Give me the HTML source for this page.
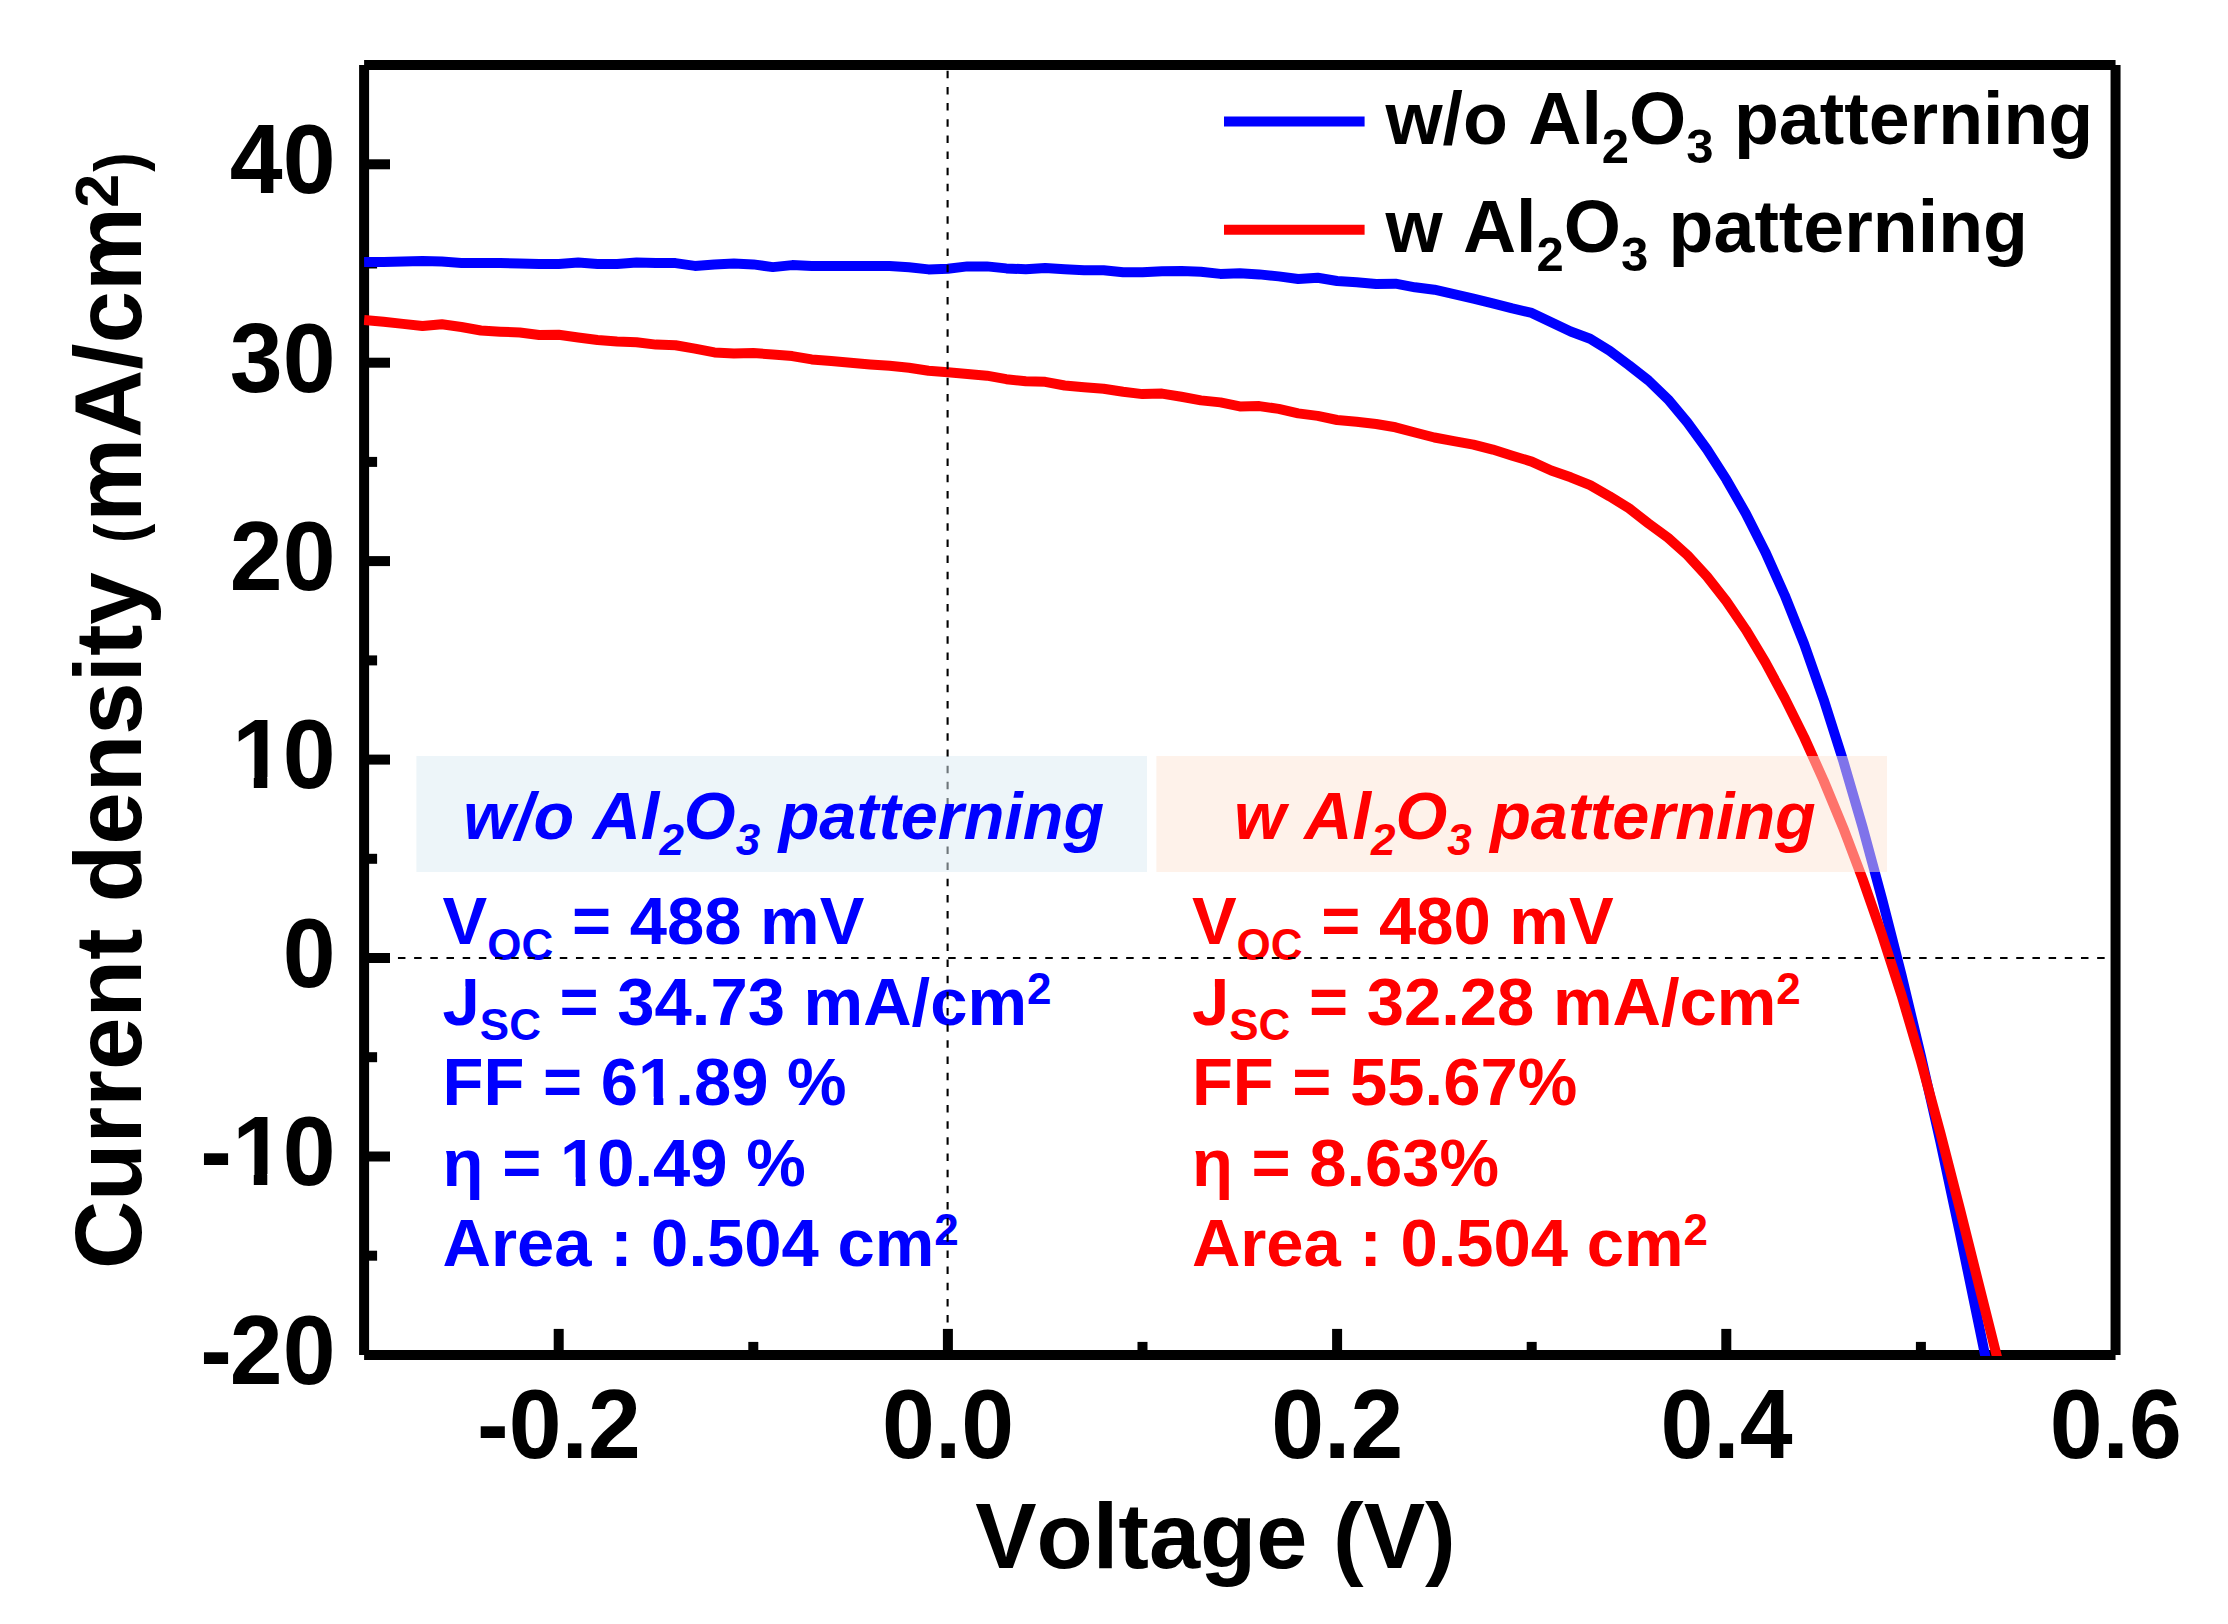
<!DOCTYPE html>
<html lang="en">
<head>
<meta charset="utf-8">
<title>J-V curves: w/o vs w Al2O3 patterning</title>
<style>
html,body{margin:0;padding:0;background:#fff;}
body{width:2228px;height:1624px;overflow:hidden;}
svg{display:block;}
text{font-family:"Liberation Sans", Arial, Helvetica, sans-serif;font-weight:bold;font-kerning:none;}
.tick{font-size:95px;fill:#000;}
.ttl{fill:#000;}
.b{fill:#0000ff;}
.r{fill:#ff0000;}
.ann{font-size:67px;}
.it{font-style:italic;}
</style>
</head>
<body>
<svg width="2228" height="1624" viewBox="0 0 2228 1624">
<defs><clipPath id="plotclip"><rect x="363.7" y="65.0" width="1751.9" height="1290.9"/></clipPath></defs>
<rect x="0" y="0" width="2228" height="1624" fill="#ffffff"/>
<g id="axes" stroke="#000" stroke-width="10" fill="none" stroke-linecap="butt">
<line x1="364.10" y1="65.05" x2="364.10" y2="1354.90"/>
<line x1="364.10" y1="1354.90" x2="2115.55" y2="1354.90"/>
<line x1="364.10" y1="65.05" x2="2115.55" y2="65.05"/>
<line x1="2115.55" y1="65.05" x2="2115.55" y2="1354.90"/>
<line x1="364.1" y1="164.3" x2="390.0" y2="164.3"/>
<line x1="364.1" y1="362.7" x2="390.0" y2="362.7"/>
<line x1="364.1" y1="561.1" x2="390.0" y2="561.1"/>
<line x1="364.1" y1="759.6" x2="390.0" y2="759.6"/>
<line x1="364.1" y1="958.0" x2="390.0" y2="958.0"/>
<line x1="364.1" y1="1156.5" x2="390.0" y2="1156.5"/>
<line x1="364.1" y1="263.5" x2="377.1" y2="263.5"/>
<line x1="364.1" y1="461.9" x2="377.1" y2="461.9"/>
<line x1="364.1" y1="660.4" x2="377.1" y2="660.4"/>
<line x1="364.1" y1="858.8" x2="377.1" y2="858.8"/>
<line x1="364.1" y1="1057.2" x2="377.1" y2="1057.2"/>
<line x1="364.1" y1="1255.7" x2="377.1" y2="1255.7"/>
<line x1="558.7" y1="1354.9" x2="558.7" y2="1328.9"/>
<line x1="947.9" y1="1354.9" x2="947.9" y2="1328.9"/>
<line x1="1337.1" y1="1354.9" x2="1337.1" y2="1328.9"/>
<line x1="1726.3" y1="1354.9" x2="1726.3" y2="1328.9"/>
<line x1="753.3" y1="1354.9" x2="753.3" y2="1341.9"/>
<line x1="1142.5" y1="1354.9" x2="1142.5" y2="1341.9"/>
<line x1="1531.7" y1="1354.9" x2="1531.7" y2="1341.9"/>
<line x1="1920.9" y1="1354.9" x2="1920.9" y2="1341.9"/>
</g>
<g id="ylabels" class="tick" text-anchor="end">
<text transform="translate(0,193.1) scale(1,1.040)" x="335.50">40</text>
<text transform="translate(0,391.5) scale(1,1.040)" x="335.50">30</text>
<text transform="translate(0,589.9) scale(1,1.040)" x="335.50">20</text>
<text transform="translate(0,986.8) scale(1,1.040)" x="335.50">0</text>
<text transform="translate(0,788.4) scale(1,1.040)" x="285.07 335.50">10</text>
<text transform="translate(0,1185.3) scale(1,1.040)" x="231.83 285.07 335.50">-10</text>
<text transform="translate(0,1383.7) scale(1,1.040)" x="231.83 335.50">-20</text>
<rect x="235" y="777.1" width="18.8" height="13" fill="#fff"/>
<rect x="267.3" y="777.1" width="16.5" height="13" fill="#fff"/>
<rect x="235" y="1174.0" width="18.8" height="13" fill="#fff"/>
<rect x="267.3" y="1174.0" width="16.5" height="13" fill="#fff"/>
</g>
<g id="xlabels" class="tick" text-anchor="middle">
<text transform="translate(558.9,1457.9) scale(1,1.040)">-0.2</text>
<text transform="translate(948.1,1457.9) scale(1,1.040)">0.0</text>
<text transform="translate(1337.3,1457.9) scale(1,1.040)">0.2</text>
<text transform="translate(1726.5,1457.9) scale(1,1.040)">0.4</text>
<text transform="translate(2115.8,1457.9) scale(1,1.040)">0.6</text>
</g>
<text class="ttl" x="975.2" y="1568" font-size="92">Voltage (V)</text>
<text class="ttl" transform="rotate(-90)" font-size="94.3" y="141.1"><tspan x="-1269.1">Current density </tspan><tspan x="-543.1" font-size="67" textLength="19.41" lengthAdjust="spacingAndGlyphs">(</tspan><tspan x="-521.7">mA/cm</tspan><tspan font-size="61" x="-207.7" dy="-23.2">2</tspan><tspan x="-171.8" dy="23.2" font-size="67" textLength="19.41" lengthAdjust="spacingAndGlyphs">)</tspan></text>
<g class="ann b">
<text x="442.6" y="944.3">V<tspan font-size="44" dy="15.2">OC</tspan><tspan dy="-15.2"> = 488 mV</tspan></text>
<text x="442.6" y="1024.8">J<tspan font-size="44" dy="15.2">SC</tspan><tspan dy="-15.2"> = 34.73 mA/cm</tspan><tspan font-size="44" dy="-20.7">2</tspan></text>
<text x="442.6" y="1105.2">FF = 61.89 %</text>
<text x="442.6" y="1185.7">η = 10.49 %</text>
<text x="442.6" y="1266.1">Area : 0.504 cm<tspan font-size="44" dy="-20.7">2</tspan></text>
</g>
<g class="ann r">
<text x="1191.9" y="944.3">V<tspan font-size="44" dy="15.2">OC</tspan><tspan dy="-15.2"> = 480 mV</tspan></text>
<text x="1191.9" y="1024.8">J<tspan font-size="44" dy="15.2">SC</tspan><tspan dy="-15.2"> = 32.28 mA/cm</tspan><tspan font-size="44" dy="-20.7">2</tspan></text>
<text x="1191.9" y="1105.2">FF = 55.67%</text>
<text x="1191.9" y="1185.7">η = 8.63%</text>
<text x="1191.9" y="1266.1">Area : 0.504 cm<tspan font-size="44" dy="-20.7">2</tspan></text>
</g>
<rect x="453.5" y="977.3" width="11.9" height="10.4" fill="#fff"/>
<rect x="1203.5" y="977.3" width="11.4" height="10.9" fill="#fff"/>
<rect x="640.0" y="1096.8" width="13.7" height="9.8" fill="#fff"/>
<rect x="663.3" y="1096.8" width="11.2" height="9.8" fill="#fff"/>
<rect x="562.0" y="1177.3" width="13.7" height="9.8" fill="#fff"/>
<rect x="585.3" y="1177.3" width="11.2" height="9.8" fill="#fff"/>
<g id="curves" clip-path="url(#plotclip)" fill="none" stroke-width="10" stroke-linejoin="round" stroke-linecap="butt">
<path stroke="#0000ff" d="M364.1,262.1 L383.6,261.9 L403.0,261.4 L422.5,261.0 L441.9,261.6 L461.4,262.9 L480.9,262.9 L500.3,262.9 L519.8,263.6 L539.2,264.1 L558.7,263.9 L578.2,262.6 L597.6,263.9 L617.1,263.9 L636.5,262.6 L656.0,263.1 L675.5,263.1 L694.9,265.9 L714.4,264.4 L733.9,263.6 L753.3,264.4 L772.8,267.1 L792.2,265.1 L811.7,265.9 L831.2,265.9 L850.6,265.9 L870.1,265.9 L889.5,266.1 L909.0,267.3 L928.5,269.4 L947.9,268.7 L967.4,266.4 L986.8,266.4 L1006.3,268.4 L1025.8,269.2 L1045.2,267.9 L1064.7,269.2 L1084.1,270.2 L1103.6,270.2 L1123.1,272.2 L1142.5,272.2 L1162.0,271.2 L1181.4,270.9 L1200.9,271.7 L1220.4,273.9 L1239.8,273.2 L1259.3,274.4 L1278.7,276.4 L1298.2,279.0 L1317.7,277.7 L1337.1,281.0 L1356.6,282.2 L1376.1,284.0 L1395.5,283.7 L1415.0,287.3 L1434.4,289.7 L1453.9,294.1 L1473.4,298.6 L1492.8,303.3 L1512.3,308.4 L1531.7,312.9 L1551.2,322.3 L1570.7,331.5 L1590.1,338.7 L1609.6,350.7 L1629.0,365.2 L1648.5,380.5 L1668.0,399.3 L1687.4,422.5 L1706.9,449.2 L1726.3,479.4 L1745.8,513.5 L1765.3,551.9 L1784.7,595.2 L1804.2,644.2 L1823.6,699.3 L1843.1,760.4 L1862.6,827.2 L1882.0,898.8 L1901.5,975.0 L1920.9,1055.9 L1940.4,1142.0 L1959.9,1233.1 L1979.3,1327.1 L1998.8,1421.8 L2018.3,1516.0"/>
<path stroke="#ff0000" d="M364.1,319.9 L383.6,321.7 L403.0,323.9 L422.5,326.0 L441.9,324.2 L461.4,327.0 L480.9,330.5 L500.3,331.7 L519.8,332.5 L539.2,335.0 L558.7,334.8 L578.2,337.5 L597.6,340.0 L617.1,341.5 L636.5,342.3 L656.0,344.6 L675.5,345.3 L694.9,348.6 L714.4,352.4 L733.9,353.4 L753.3,353.1 L772.8,354.4 L792.2,356.1 L811.7,359.4 L831.2,360.9 L850.6,362.7 L870.1,364.4 L889.5,365.7 L909.0,367.7 L928.5,370.7 L947.9,372.2 L967.4,374.0 L986.8,375.7 L1006.3,379.2 L1025.8,381.3 L1045.2,381.8 L1064.7,385.5 L1084.1,387.3 L1103.6,388.8 L1123.1,391.8 L1142.5,394.1 L1162.0,393.6 L1181.4,396.8 L1200.9,400.4 L1220.4,402.4 L1239.8,406.4 L1259.3,406.1 L1278.7,408.9 L1298.2,413.4 L1317.7,415.9 L1337.1,420.0 L1356.6,421.7 L1376.1,424.0 L1395.5,427.3 L1415.0,432.5 L1434.4,437.5 L1453.9,441.2 L1473.4,444.6 L1492.8,449.6 L1512.3,455.7 L1531.7,461.6 L1551.2,470.5 L1570.7,477.3 L1590.1,485.2 L1609.6,496.3 L1629.0,508.3 L1648.5,523.5 L1668.0,537.7 L1687.4,555.1 L1706.9,576.3 L1726.3,601.1 L1745.8,629.7 L1765.3,662.1 L1784.7,698.1 L1804.2,737.4 L1823.6,780.5 L1843.1,827.6 L1862.6,879.0 L1882.0,934.7 L1901.5,995.1 L1920.9,1061.1 L1940.4,1133.1 L1959.9,1209.1 L1979.3,1286.5 L1998.8,1364.1 L2018.3,1441.4"/>
</g>
<g id="zerolines" stroke="#000" stroke-width="2.1" fill="none">
<line x1="947.6" y1="70.75" x2="947.6" y2="1350.9" stroke-dasharray="7.5 8.66"/>
<line x1="365.58" y1="958.05" x2="2111.6" y2="958.05" stroke-dasharray="7.5 8.683"/>
</g>
<rect x="416.4" y="756" width="730.6" height="116" fill="#dbebf3" fill-opacity="0.5"/>
<rect x="1156.4" y="756" width="730.6" height="116" fill="#fde5d5" fill-opacity="0.5"/>
<text class="b it" x="463.3" y="839.4" font-size="66.6">w/o Al<tspan font-size="44" dy="15.2">2</tspan><tspan dy="-15.2">O</tspan><tspan font-size="44" dy="15.2">3</tspan><tspan dy="-15.2"> patterning</tspan></text>
<text class="r it" x="1234.0" y="839.4" font-size="66.6">w Al<tspan font-size="44" dy="15.2">2</tspan><tspan dy="-15.2">O</tspan><tspan font-size="44" dy="15.2">3</tspan><tspan dy="-15.2"> patterning</tspan></text>
<g id="legend">
<line x1="1224" y1="121.4" x2="1364.6" y2="121.4" stroke="#0000ff" stroke-width="10"/>
<line x1="1224" y1="229.8" x2="1364.6" y2="229.8" stroke="#ff0000" stroke-width="10"/>
<text class="ttl" x="1385.4" y="143.9" font-size="73.5">w/o Al<tspan font-size="49" dy="18.8">2</tspan><tspan dy="-18.8">O</tspan><tspan font-size="49" dy="18.8">3</tspan><tspan dy="-18.8"> patterning</tspan></text>
<text class="ttl" x="1385.4" y="252.1" font-size="73.5">w Al<tspan font-size="49" dy="18.8">2</tspan><tspan dy="-18.8">O</tspan><tspan font-size="49" dy="18.8">3</tspan><tspan dy="-18.8"> patterning</tspan></text>
</g>
</svg>
</body>
</html>
